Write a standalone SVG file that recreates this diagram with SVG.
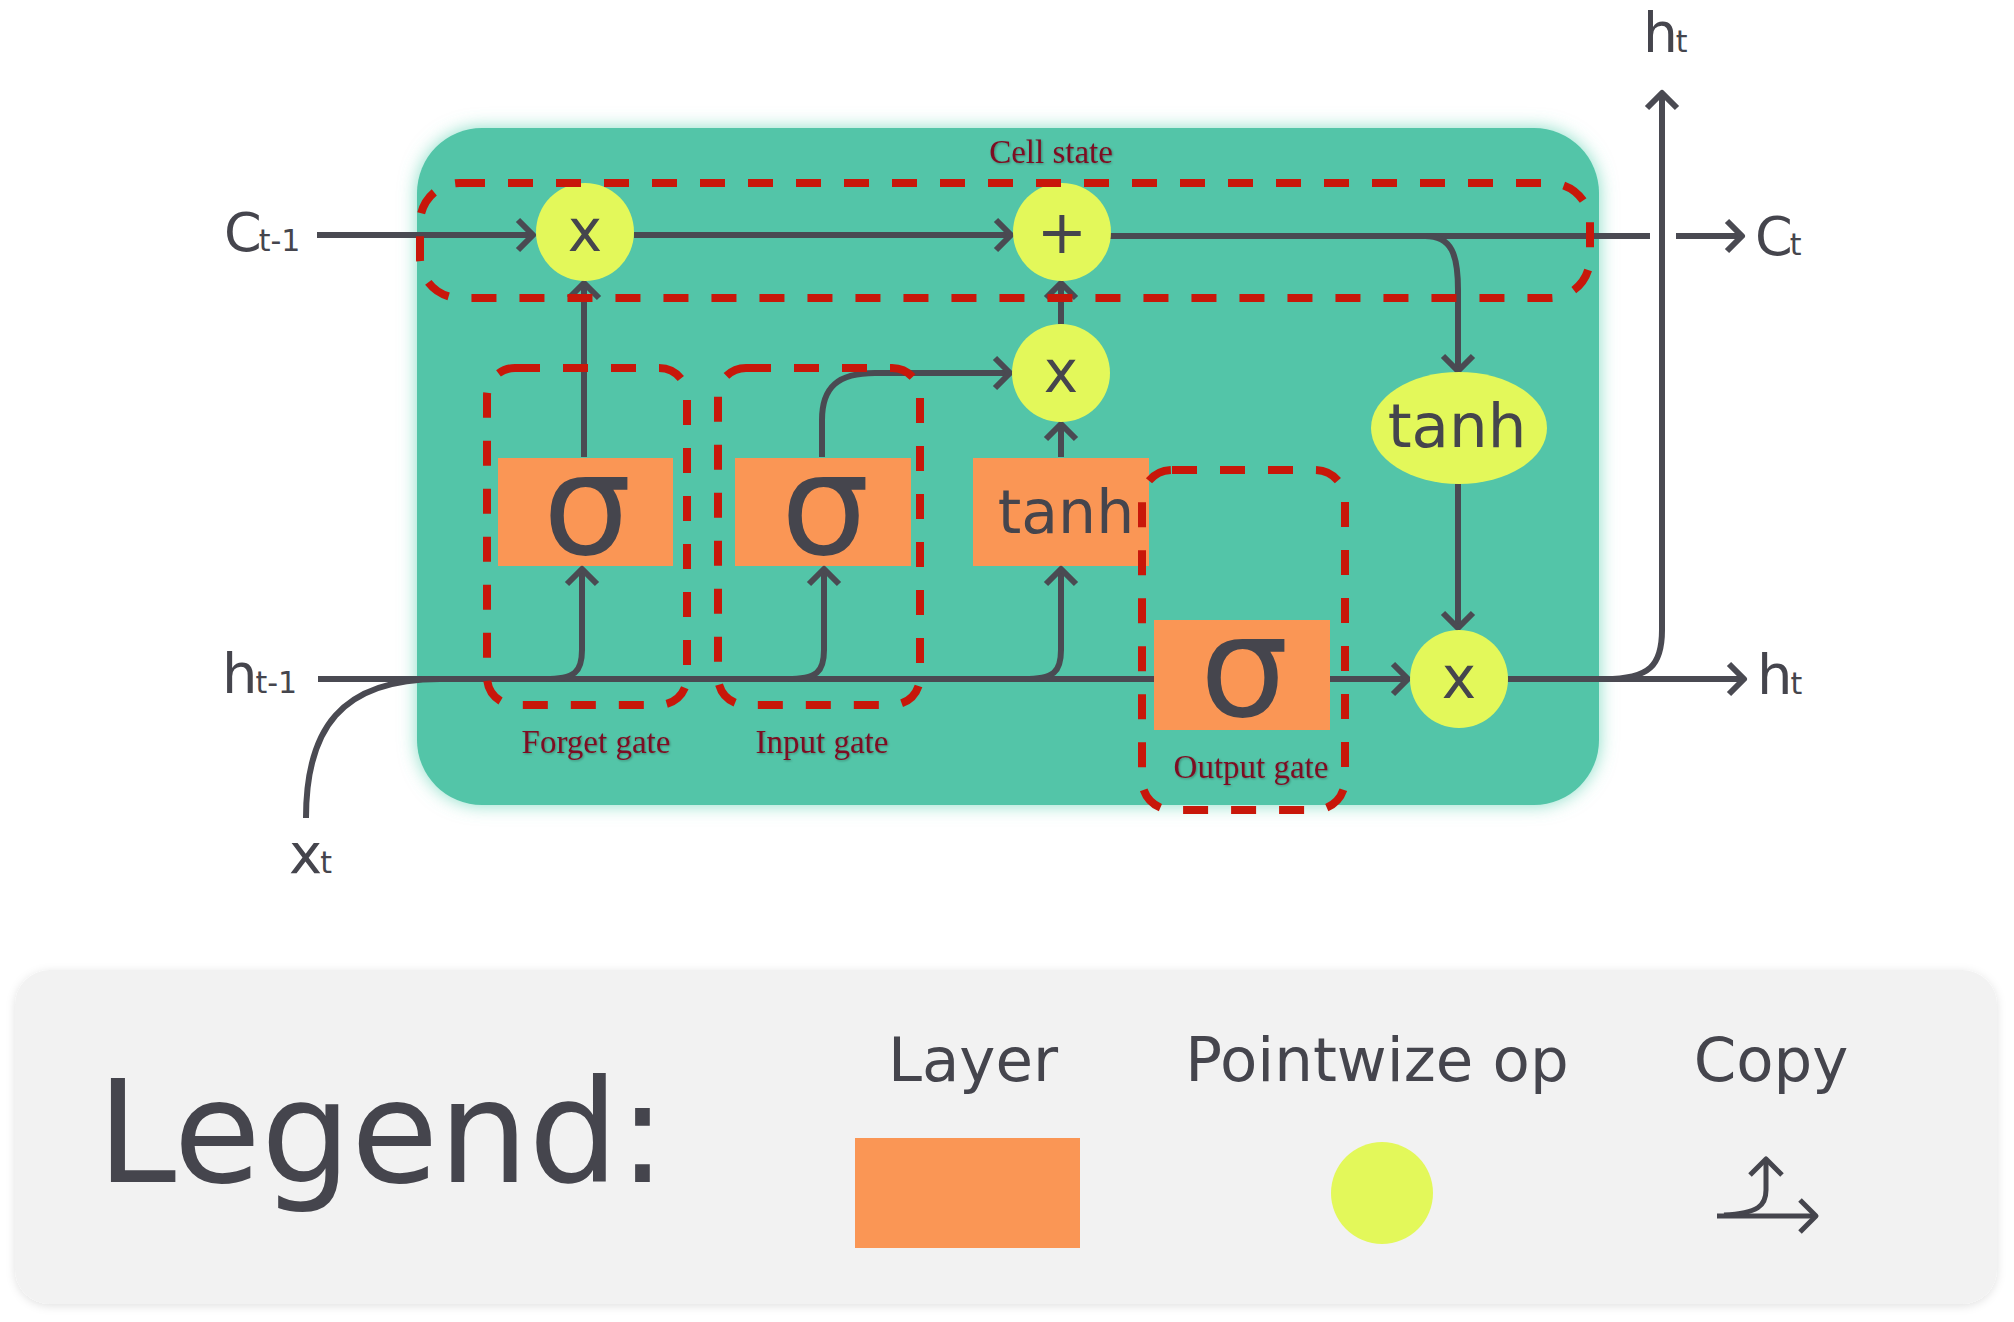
<svg xmlns="http://www.w3.org/2000/svg" width="2014" height="1322" viewBox="0 0 2014 1322">
<defs>
  <filter id="glow" x="-10%" y="-10%" width="120%" height="120%">
    <feDropShadow dx="0" dy="0" stdDeviation="9" flood-color="#5fd1b3" flood-opacity="0.75"/>
  </filter>
  <filter id="lshadow" x="-5%" y="-10%" width="110%" height="120%">
    <feDropShadow dx="0" dy="2" stdDeviation="5" flood-color="#000" flood-opacity="0.12"/>
  </filter>
  <filter id="tshadow" x="-5%" y="-20%" width="110%" height="140%">
    <feDropShadow dx="1" dy="1" stdDeviation="1" flood-color="#000" flood-opacity="0.3"/>
  </filter>
  <marker id="ah" markerUnits="userSpaceOnUse" markerWidth="44" markerHeight="44" viewBox="-22 -22 44 44" refX="0" refY="0" orient="auto">
    <path d="M-15,-15 L0,0 L-15,15" fill="none" stroke="#4a4a52" stroke-width="6" stroke-linecap="butt" stroke-linejoin="round"/>
  </marker>
  <marker id="ahs" markerUnits="userSpaceOnUse" markerWidth="44" markerHeight="44" viewBox="-22 -22 44 44" refX="0" refY="0" orient="auto">
    <path d="M-16,-16 L0,0 L-16,16" fill="none" stroke="#45454d" stroke-width="5" stroke-linejoin="round"/>
  </marker>
  <style>
    .ln{fill:none;stroke:#4a4a52;stroke-width:6;}
    .arr{marker-end:url(#ah);}
    .layer{fill:#fa9655;}
    .op{fill:#e3f85a;}
    .dash{fill:none;stroke:#c8170a;stroke-width:8;stroke-dasharray:25 23;}
    .lbl{font-family:"DejaVu Sans",sans-serif;fill:#45454d;}
    .sym{font-family:"DejaVu Sans",sans-serif;fill:#45454d;text-anchor:middle;}
    .gate{font-family:"Liberation Serif",serif;font-size:33px;fill:#7d0d22;text-anchor:middle;}
    .leg{font-family:"DejaVu Sans",sans-serif;fill:#45454d;font-size:61px;text-anchor:middle;}
  </style>
</defs>

<rect x="0" y="0" width="2014" height="1322" fill="#ffffff"/>

<g id="cell">
  <rect x="417" y="128" width="1182" height="677" rx="65" fill="#52c5a8" filter="url(#glow)"/>
</g>

<g id="layers">
  <g id="forget-sigma">
    <rect class="layer" x="498" y="458" width="175" height="108"/>
    <text class="sym" x="587" y="554" font-size="140">σ</text>
  </g>
  <g id="input-sigma">
    <rect class="layer" x="735" y="458" width="176" height="108"/>
    <text class="sym" x="825" y="554" font-size="140">σ</text>
  </g>
  <g id="tanh-layer">
    <rect class="layer" x="973" y="458" width="176" height="108"/>
    <text class="sym" x="1066" y="533" font-size="60">tanh</text>
  </g>
  <g id="output-sigma">
    <rect class="layer" x="1154" y="620" width="176" height="110"/>
    <text class="sym" x="1244" y="716" font-size="140">σ</text>
  </g>
</g>

<g id="connectors">
  <path class="ln arr" d="M317,235 L533,235"/>
  <path class="ln arr" d="M634,235 L1011,235"/>
  <path class="ln" d="M1110,236 L1650,236"/>
  <path class="ln arr" d="M1676,236 L1742,236"/>
  <path class="ln arr" d="M1425,236 C1452,236 1458,255 1458,290 L1458,371"/>
  <path class="ln arr" d="M1458,484 L1458,628"/>
  <path class="ln arr" d="M1508,679 L1744,679"/>
  <path class="ln arr" d="M1605,679 C1650,679 1662,665 1662,630 L1662,93"/>
  <path class="ln" d="M318,679 L1154,679"/>
  <path class="ln" d="M306,818 C306,730 340,679 440,679"/>
  <path class="ln arr" d="M545,679 C575,679 582,672 582,650 L582,569"/>
  <path class="ln arr" d="M787,679 C817,679 824,672 824,650 L824,569"/>
  <path class="ln arr" d="M1024,679 C1054,679 1061,672 1061,650 L1061,569"/>
  <path class="ln arr" d="M1330,679 L1408,679"/>
  <path class="ln arr" d="M584,457 L584,283"/>
  <path class="ln arr" d="M822,457 L822,420 C822,387 838,373 875,373 L1010,373"/>
  <path class="ln arr" d="M1061,457 L1061,424"/>
  <path class="ln arr" d="M1061,324 L1061,283"/>
</g>

<g id="ops">
  <g id="forget-mult">
    <circle class="op" cx="585" cy="232" r="49"/>
    <text class="sym" x="585" y="251" font-size="58">x</text>
  </g>
  <g id="add">
    <circle class="op" cx="1062" cy="232" r="49"/>
    <text class="sym" x="1062" y="253" font-size="60">+</text>
  </g>
  <g id="input-mult">
    <circle class="op" cx="1061" cy="373" r="49"/>
    <text class="sym" x="1061" y="392" font-size="58">x</text>
  </g>
  <g id="tanh-op">
    <ellipse class="op" cx="1459" cy="428" rx="88" ry="56"/>
    <text class="sym" x="1457" y="447" font-size="61">tanh</text>
  </g>
  <g id="output-mult">
    <circle class="op" cx="1459" cy="679" r="49"/>
    <text class="sym" x="1459" y="698" font-size="58">x</text>
  </g>
</g>

<g id="gates">
  <g id="cell-state-box">
    <rect class="dash" x="420" y="183" width="1170" height="115" rx="40"/>
    <text class="gate" x="1051" y="163" filter="url(#tshadow)">Cell state</text>
  </g>
  <g id="forget-gate">
    <rect class="dash" x="487" y="368" width="200" height="337" rx="28"/>
    <text class="gate" x="596" y="753" filter="url(#tshadow)">Forget gate</text>
  </g>
  <g id="input-gate">
    <rect class="dash" x="718" y="368" width="202" height="337" rx="28"/>
    <text class="gate" x="822" y="753" filter="url(#tshadow)">Input gate</text>
  </g>
  <g id="output-gate">
    <rect class="dash" x="1142" y="470" width="203" height="340" rx="30"/>
    <text class="gate" x="1251" y="778" filter="url(#tshadow)">Output gate</text>
  </g>
</g>

<g id="io-labels">
  <text class="lbl" x="224" y="251" font-size="54">C<tspan font-size="30" dx="-3">t-1</tspan></text>
  <text class="lbl" x="222" y="693" font-size="56">h<tspan font-size="30" dx="-2">t-1</tspan></text>
  <text class="lbl" x="289" y="873" font-size="56">x<tspan font-size="30" dx="-2">t</tspan></text>
  <text class="lbl" x="1643" y="52" font-size="55">h<tspan font-size="30" dx="-2">t</tspan></text>
  <text class="lbl" x="1755" y="255" font-size="54">C<tspan font-size="30" dx="-3">t</tspan></text>
  <text class="lbl" x="1757" y="694" font-size="56">h<tspan font-size="30" dx="-2">t</tspan></text>
</g>

<g id="legend">
  <rect x="15" y="970" width="1982" height="334" rx="35" fill="#f2f2f2" filter="url(#lshadow)"/>
  <text class="lbl" x="97" y="1182" font-size="142">Legend:</text>
  <g id="legend-layer">
    <text class="leg" x="973" y="1081">Layer</text>
    <rect class="layer" x="855" y="1138" width="225" height="110"/>
  </g>
  <g id="legend-op">
    <text class="leg" x="1377" y="1081">Pointwize op</text>
    <circle class="op" cx="1382" cy="1193" r="51"/>
  </g>
  <g id="legend-copy">
    <text class="leg" x="1771" y="1081">Copy</text>
    <path d="M1717,1216 L1816,1216" fill="none" stroke="#45454d" stroke-width="5" marker-end="url(#ahs)"/>
    <path d="M1724,1215 C1758,1213 1766,1206 1766,1190 L1766,1159" fill="none" stroke="#45454d" stroke-width="5" marker-end="url(#ahs)"/>
  </g>
</g>
</svg>
